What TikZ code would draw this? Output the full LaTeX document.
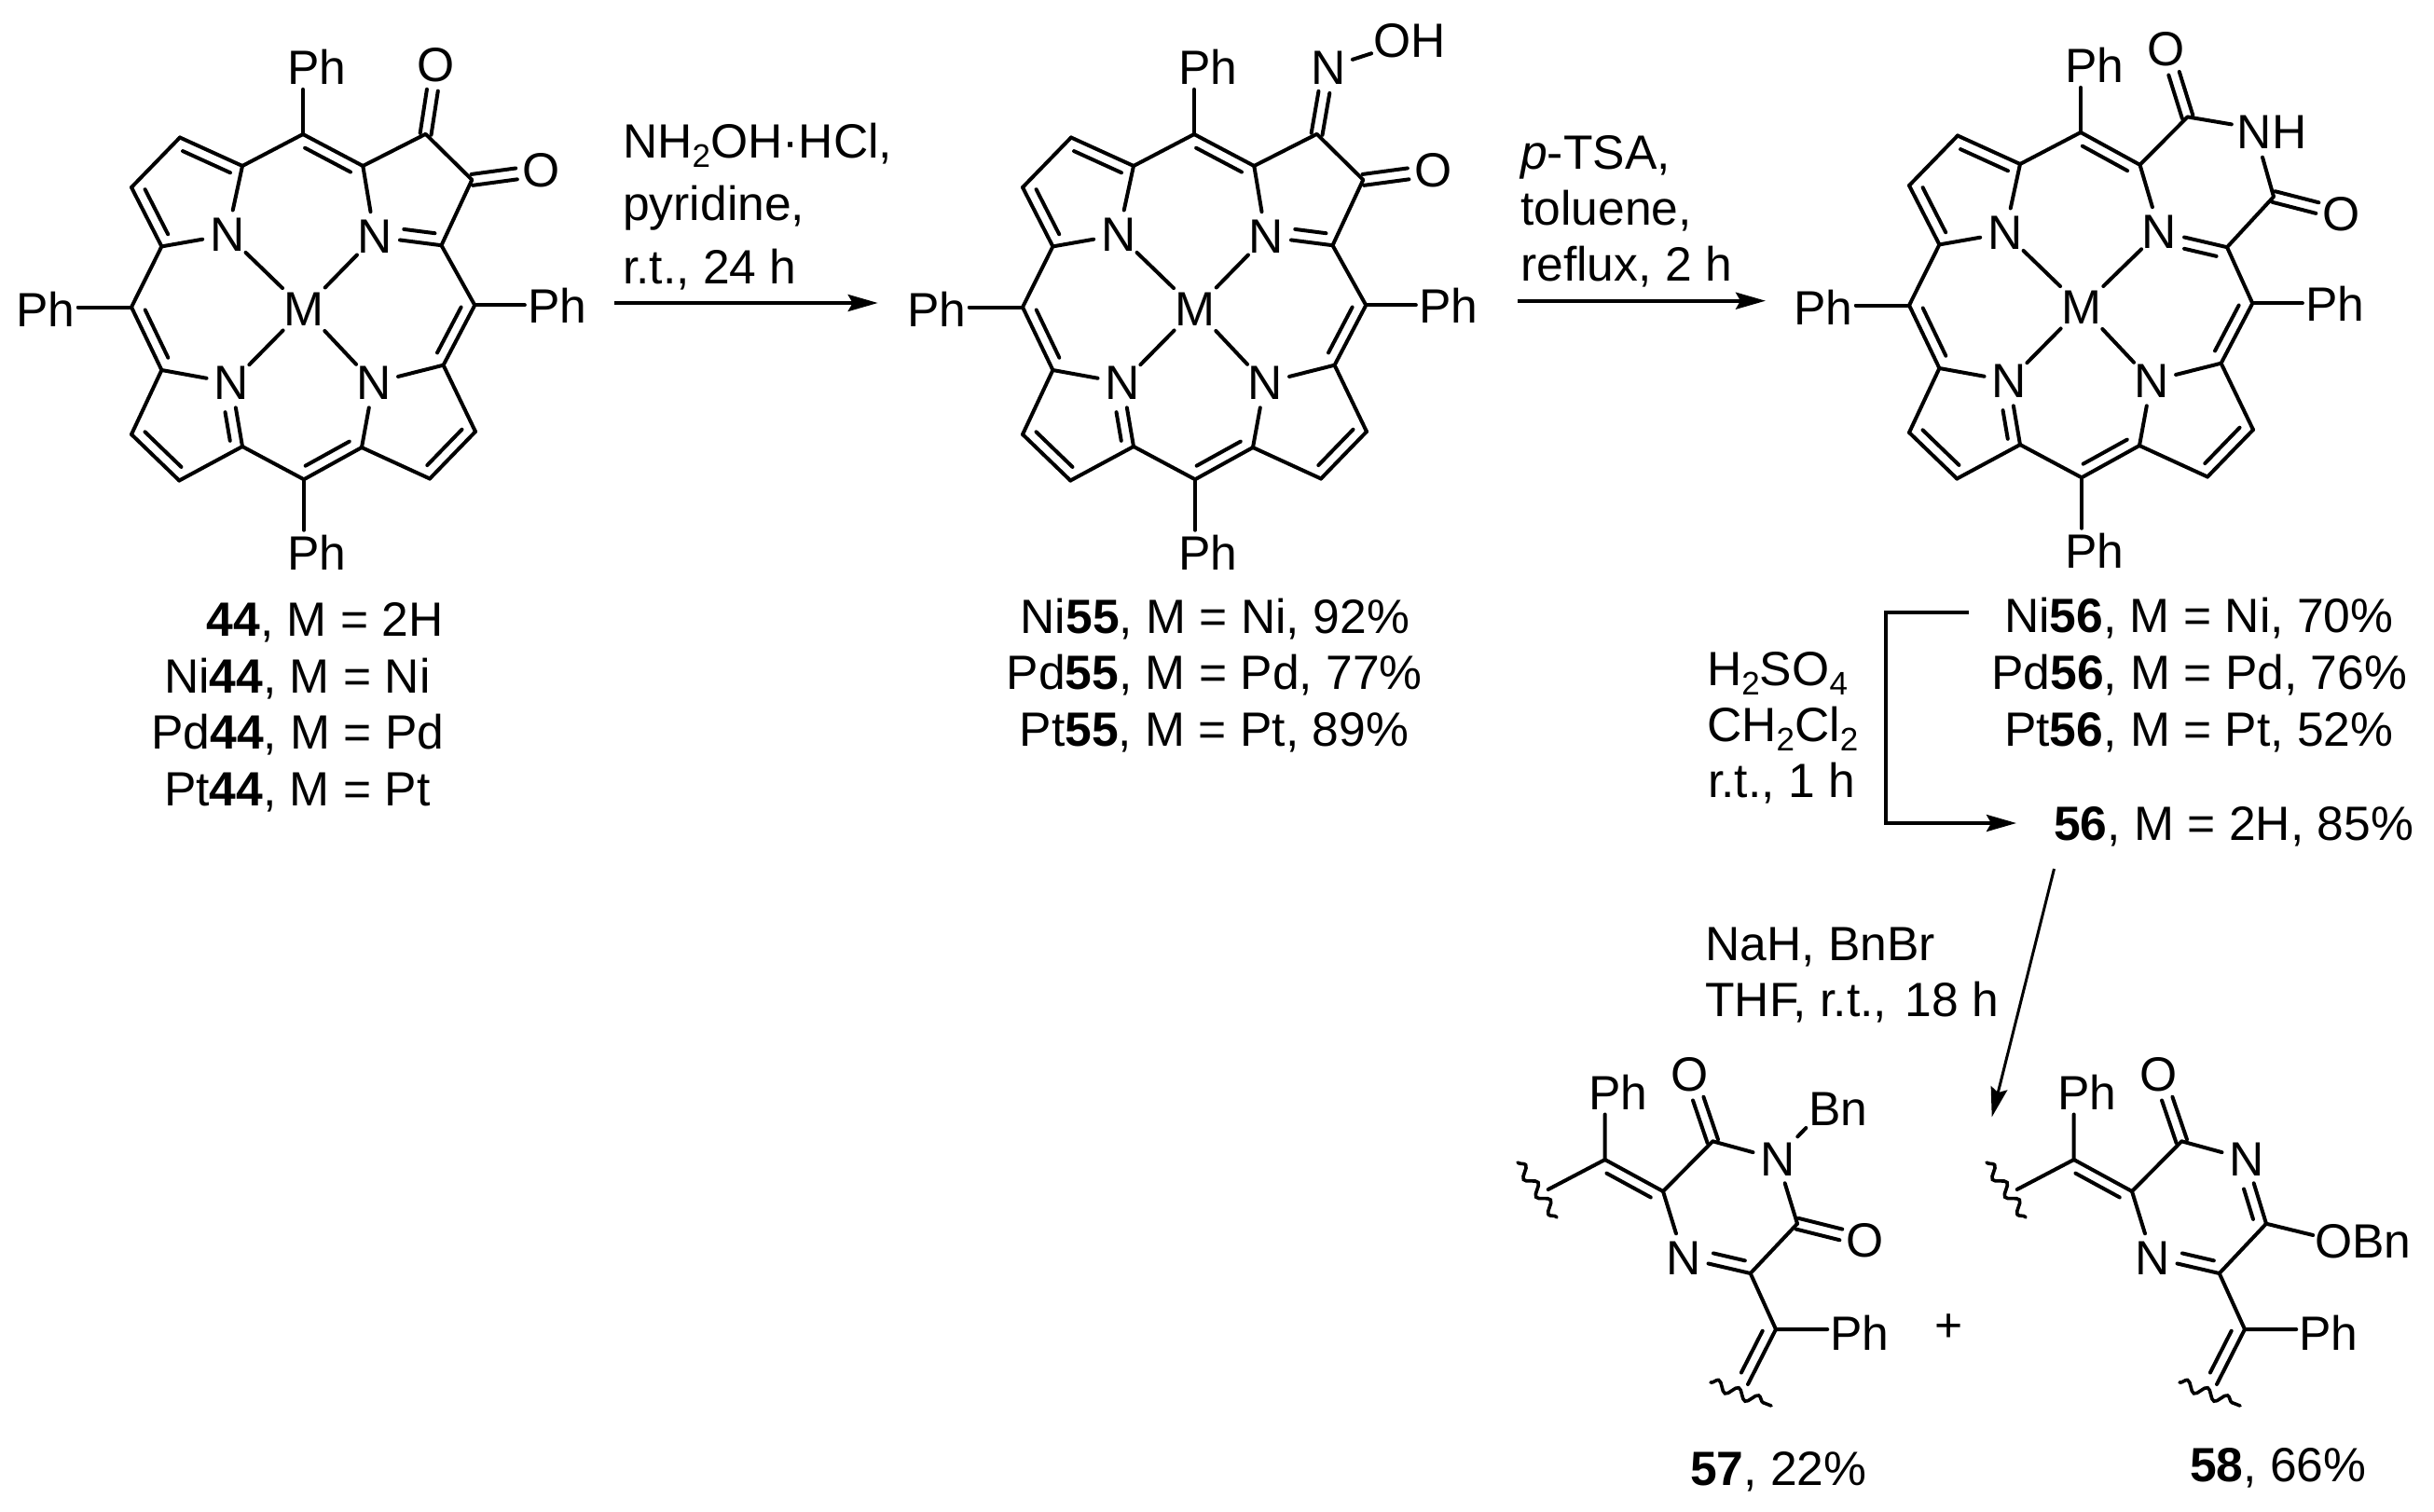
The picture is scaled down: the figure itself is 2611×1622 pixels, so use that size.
\documentclass[tikz,border=0pt]{standalone}
\usepackage{fontspec}
\setmainfont{Liberation Sans}
\usetikzlibrary{calc,arrows.meta,decorations.pathmorphing}
\newcommand{\chemf}{\fontsize{51.6}{60}\selectfont}
\newcommand{\subs}[1]{\raisebox{-.2em}{\fontsize{35}{40}\selectfont #1}}
\tikzset{
  bond/.style={line width=4pt,line cap=round,line join=round},
  atomN/.style={circle,inner sep=0pt,minimum size=54pt,font=\chemf},
  atomM/.style={circle,inner sep=0pt,minimum size=64pt,font=\chemf},
  atomO/.style={circle,inner sep=0pt,minimum size=54pt,font=\chemf},
  lab/.style={inner sep=0pt,anchor=base west,font=\chemf},
  ph/.style={inner xsep=3pt,inner ysep=5pt,font=\chemf},
  rarrow/.style={line width=3.8pt,-{Stealth[length=32pt,width=18pt,inset=5pt]}},
  wavy/.style={line width=3.6pt,line cap=round,decorate,decoration={snake,amplitude=5.5pt,segment length=23pt}},
}
% inner line of a double bond between two carbons
\newcommand{\dbl}[3]{\draw[bond] (#1) -- (#2);
  \draw[bond] ($(#1)!.12!(#2)!12pt!#3:(#2)$) -- ($(#2)!.12!(#1)!12pt!-#3:(#1)$);}
% double bond from an atom label to a carbon
\newcommand{\dblN}[4]{\draw[bond] (#1) -- (#2);
  \draw[bond] ($(#1)!#4pt!(#2)!12pt!#3:(#2)$) -- ($(#2)!.12!(#1)!12pt!-#3:(#1)$);}
% symmetric double bond C=X
\newcommand{\dblS}[2]{%
  \draw[bond] ($(#1)!6pt!90:(#2)$) -- ($(#2)!27pt!(#1)!6pt!-90:(#1)$);
  \draw[bond] ($(#1)!6pt!-90:(#2)$) -- ($(#2)!27pt!(#1)!6pt!90:(#1)$);}
% the part shared by the three porphyrins
\newcommand{\porph}{%
  \coordinate (mt) at (325,144); \coordinate (aTL) at (260,178);
  \coordinate (bT1) at (193,147.5); \coordinate (bT2) at (141,201);
  \coordinate (aL) at (173.4,264.4); \coordinate (ml) at (141,329.5);
  \coordinate (aBL) at (173.4,397); \coordinate (bB1) at (141,466);
  \coordinate (bB2) at (192.3,515.5); \coordinate (aB) at (260,479);
  \coordinate (mb) at (326,514.3); \coordinate (aBR) at (388,480);
  \coordinate (bR1) at (461,513.5); \coordinate (bR2) at (510,463);
  \coordinate (aR) at (475.6,391.7); \coordinate (mr) at (509.3,327.4);
  \node[atomN] (NTL) at (244,252) {N};
  \node[atomN] (NBL) at (248.3,410.6) {N};
  \node[atomN] (NBR) at (400.7,410.6) {N};
  \node[atomM] (M) at (326.2,331.5) {M};
  \node[ph] (PhT) at (339.6,72) {Ph};
  \node[ph] (PhL) at (49,331.5) {Ph};
  \node[ph] (PhR) at (597.6,327.4) {Ph};
  \node[ph] (PhB) at (339.6,592.6) {Ph};
  \draw[bond] (mt) -- (mt |- PhT.south);
  \draw[bond] (mb) -- (mb |- PhB.north);
  \draw[bond] (ml) -- (PhL.east |- ml);
  \draw[bond] (mr) -- (PhR.west |- mr);
  \draw[bond] (mt) -- (aTL) -- (NTL);
  \draw[bond] (aL) -- (NTL) (aL) -- (ml);
  \dbl{bT1}{aTL}{-90}
  \dbl{aL}{bT2}{-90}
  \draw[bond] (bT1) -- (bT2);
  \dbl{ml}{aBL}{90}
  \draw[bond] (aBL) -- (NBL) (aBL) -- (bB1);
  \dbl{bB1}{bB2}{90}
  \draw[bond] (bB2) -- (aB) -- (mb);
  \dblN{NBL}{aB}{-90}{30}
  \dbl{mb}{aBR}{90}
  \draw[bond] (aBR) -- (NBR) (aBR) -- (bR1);
  \dbl{bR1}{bR2}{90}
  \draw[bond] (bR2) -- (aR) -- (NBR);
  \dbl{mr}{aR}{-90}
  \draw[bond] (NTL) -- (M) (NBL) -- (M) (NBR) -- (M);
}
% porphyrin with a five-membered upper-right ring
\newcommand{\fivering}{%
  \coordinate (aT) at (389.3,178); \coordinate (aTR) at (473.5,263.2);
  \coordinate (cU) at (456.6,143.8); \coordinate (cR) at (506.3,192.9);
  \node[atomN] (NTR) at (402,254) {N};
  \dbl{mt}{aT}{-90}
  \draw[bond] (aT) -- (NTR) (NTR) -- (M);
  \dblN{NTR}{aTR}{90}{30}
  \draw[bond] (aTR) -- (mr) (aT) -- (cU) -- (cR) -- (aTR);
}
% fragment common to 57 and 58
\newcommand{\frag}{%
  \coordinate (c1) at (1721.7,1244); \coordinate (c2) at (1784,1278);
  \coordinate (c3) at (1837.3,1224.3); \coordinate (c4) at (1928,1312.7);
  \coordinate (c5) at (1877.7,1366); \coordinate (c6) at (1905,1426);
  \coordinate (e1) at (1660.7,1276); \coordinate (e2) at (1875,1485);
  \coordinate (w1) at (1628,1247); \coordinate (w2) at (1670,1306);
  \coordinate (w3) at (1835,1483); \coordinate (w4) at (1900,1508);
  \node[ph] (Ph1) at (1736,1171.6) {Ph};
  \node[ph] (Ph2) at (1995,1430) {Ph};
  \node[atomO] (O1) at (1813,1153) {O};
  \node[atomN] (Nb) at (1806,1349.3) {N};
  \node[atomN] (Nr) at (1906.7,1243.3) {N};
  \draw[bond] (c1) -- (c1 |- Ph1.south) (c1) -- (e1);
  \dbl{c1}{c2}{-90}
  \draw[bond] (c2) -- (c3) (c2) -- (Nb) (c3) -- (Nr);
  \dblS{c3}{O1}
  \dblN{Nb}{c5}{90}{30}
  \draw[bond] (c5) -- (c4) (c5) -- (c6) (c6) -- (Ph2.west |- c6);
  \dbl{c6}{e2}{-90}
  \draw[wavy] (w1) -- (w2);
  \draw[wavy] (w3) -- (w4);
}
\begin{document}
\begin{tikzpicture}[x=1pt,y=-1pt]
\useasboundingbox (0,0) rectangle (2611,1622);
% --- 44
\begin{scope}[name prefix=A-]
  \porph \fivering
  \node[atomO] (O1) at (468,70) {O};
  \node[atomO] (O2) at (580.8,182.8) {O};
  \dblS{cU}{O1}
  \dblS{cR}{O2}
\end{scope}
% --- 55
\begin{scope}[shift={(956,0)},name prefix=B-]
  \porph \fivering
  \node[atomN] (Nox) at (469,72.3) {N};
  \node[inner sep=2pt,font=\chemf] (OH) at (556,44) {OH};
  \node[atomO] (O2) at (581.4,182.8) {O};
  \dblS{cU}{Nox}
  \draw[bond] (Nox) -- (OH);
  \dblS{cR}{O2}
\end{scope}
% --- 56
\begin{scope}[shift={(1907,-2)},name prefix=C-]
  \porph
  \coordinate (aT) at (388.5,178.8); \coordinate (aTR) at (482,267.2);
  \coordinate (cU) at (439.6,127.4); \coordinate (cR) at (532,213);
  \coordinate (nhA) at (486.8,135.4); \coordinate (nhB) at (520,170.7);
  \node[atomN] (NTR) at (409.6,250.3) {N};
  \node[inner sep=2pt,font=\chemf] (NH) at (530,143.8) {NH};
  \node[atomO] (O1) at (417,55) {O};
  \node[atomO] (O2) at (605,231.8) {O};
  \dbl{mt}{aT}{-90}
  \draw[bond] (aT) -- (NTR) (NTR) -- (M);
  \dblN{NTR}{aTR}{-90}{30}
  \draw[bond] (aTR) -- (mr) (aT) -- (cU) -- (nhA) (nhB) -- (cR) -- (aTR);
  \dblS{cU}{O1}
  \dblS{cR}{O2}
\end{scope}
% --- 57
\begin{scope}[name prefix=D-]
  \frag
  \node[lab] (Bn) at (1940,1207.3) {Bn};
  \node[atomO] (O2) at (2001,1331) {O};
  \draw[bond] (Nr) -- (c4);
  \coordinate (nb) at (1928.3,1219.3); \coordinate (ne) at (1937.3,1210);
  \draw[bond] (nb) -- (ne);
  \dblS{c4}{O2}
\end{scope}
% --- 58
\begin{scope}[shift={(503,0)},name prefix=E-]
  \frag
  \node[inner sep=2pt,font=\chemf] (OBn) at (2032,1332) {OBn};
  \dblN{Nr}{c4}{-90}{30}
  \draw[bond] (c4) -- (OBn.west |- 0,1325);
\end{scope}
% --- compound labels
\node[lab] (l44) at (221.5,682) {\textbf{44}, M = 2H};
\node[lab] (l44n) at (176,743) {Ni\textbf{44}, M = Ni};
\node[lab] (l44d) at (162,803) {Pd\textbf{44}, M = Pd};
\node[lab] (l44t) at (176,864) {Pt\textbf{44}, M = Pt};
\node[lab] (l55n) at (1094.5,679) {Ni\textbf{55}, M = Ni, 92\%};
\node[lab] (l55d) at (1079.5,739.3) {Pd\textbf{55}, M = Pd, 77\%};
\node[lab] (l55t) at (1093.5,800) {Pt\textbf{55}, M = Pt, 89\%};
\node[lab] (l56n) at (2150,678) {Ni\textbf{56}, M = Ni, 70\%};
\node[lab] (l56d) at (2136,739) {Pd\textbf{56}, M = Pd, 76\%};
\node[lab] (l56t) at (2150,800.7) {Pt\textbf{56}, M = Pt, 52\%};
\node[lab] (l56) at (2203,901.7) {\textbf{56}, M = 2H, 85\%};
\node[lab] (l57) at (1813,1593.3) {\textbf{57}, 22\%};
\node[lab] (l58) at (2349,1589) {\textbf{58}, 66\%};
\node[lab] (plus) at (2075,1439) {+};
% --- reagents
\node[lab] (r1) at (668,169) {NH\subs{2}OH·HCl,};
\node[lab] (r2) at (668,236) {pyridine,};
\node[lab] (r3) at (668,304) {r.t., 24 h};
\node[lab] (r4) at (1631,181.7) {\textit{p}-TSA,};
\node[lab] (r5) at (1631,241.7) {toluene,};
\node[lab] (r6) at (1631,301.7) {reflux, 2 h};
\node[lab] (r7) at (1831,735) {H\subs{2}SO\subs{4}};
\node[lab] (r8) at (1831,795) {CH\subs{2}Cl\subs{2}};
\node[lab] (r9) at (1832,855) {r.t., 1 h};
\node[lab] (r10) at (1829,1030.7) {NaH, BnBr};
\node[lab] (r11) at (1829,1090.7) {THF, r.t., \hspace{5pt}18 h};
% --- arrows
\coordinate (a1s) at (659,325); \coordinate (a1e) at (941.7,325);
\coordinate (a2s) at (1628,322.7); \coordinate (a2e) at (1894,322.7);
\coordinate (a3s) at (2112,657); \coordinate (a3m) at (2023,657);
\coordinate (a3n) at (2023,883); \coordinate (a3e) at (2163,883);
\coordinate (a4s) at (2203.5,932); \coordinate (a4e) at (2136.7,1198.3);
\draw[rarrow] (a1s) -- (a1e);
\draw[rarrow] (a2s) -- (a2e);
\draw[rarrow] (a3s) -- (a3m) -- (a3n) -- (a3e);
\draw[rarrow,line width=3pt] (a4s) -- (a4e);
\end{tikzpicture}
\end{document}
